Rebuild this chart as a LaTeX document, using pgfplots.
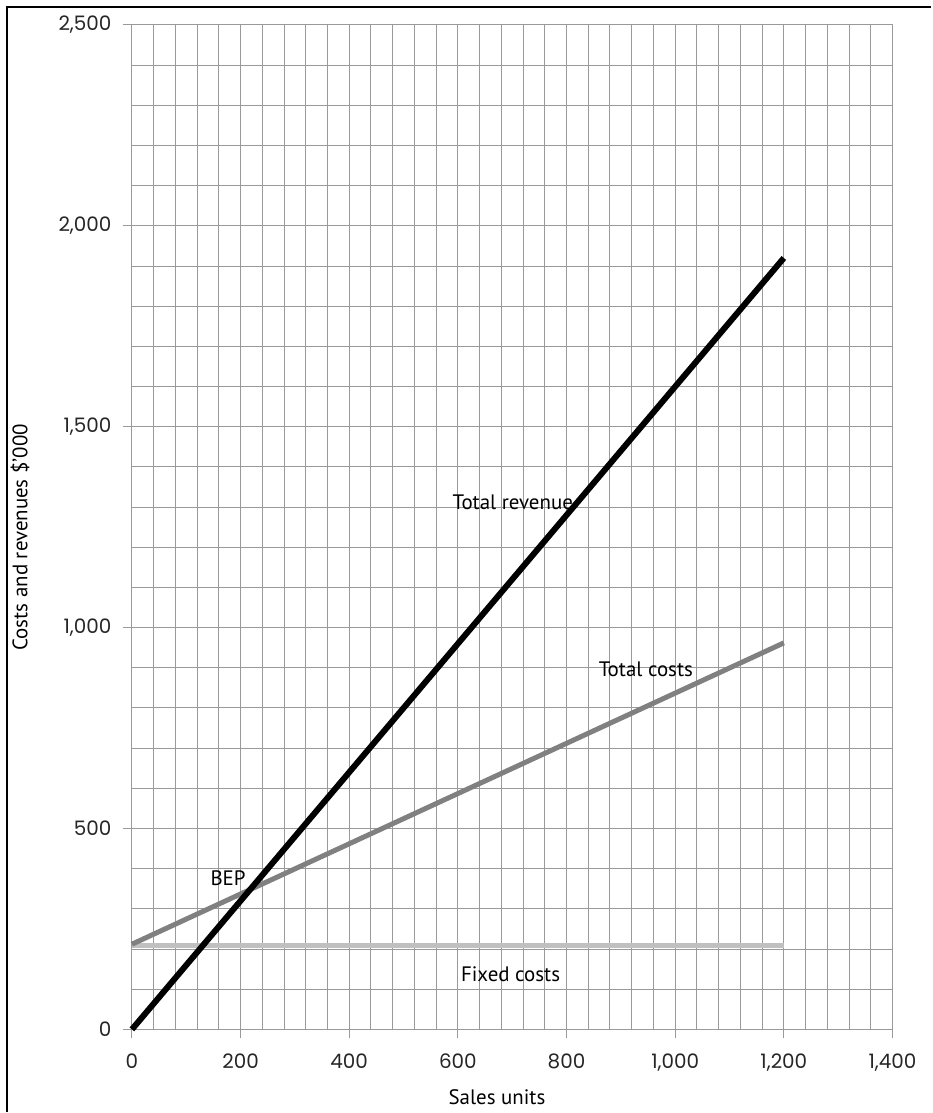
\documentclass[border=0pt]{standalone}
\usepackage{fontspec}
\setmainfont{PT Sans}
\newfontfamily\tickfont{Poppins}
\usepackage{pgfplots}
\pgfplotsset{compat=1.18}
\definecolor{gridgray}{HTML}{9A9A9A}
\definecolor{costgray}{HTML}{808080}
\definecolor{fixgray}{HTML}{C0C0C0}
\begin{document}
\begin{tikzpicture}[x=1bp,y=1bp]
\path (0,0) rectangle (932,1113);
\draw[black, line width=1.3bp] (7,0) -- (7,1106) -- (932,1106);
\begin{axis}[
  at={(132bp,83bp)}, anchor=south west,
  scale only axis, width=761bp, height=1005bp,
  xmin=0, xmax=1400, ymin=0, ymax=2500,
  xtick={0,200,...,1400}, ytick={0,500,...,2500},
  minor x tick num=4, minor y tick num=4,
  grid=both,
  major grid style={draw=gridgray, line width=1bp},
  minor grid style={draw=gridgray, line width=1bp},
  axis line style={draw=gridgray, line width=1bp},
  tick style={draw=gridgray, line width=1bp},
  tick pos=left, tick align=outside,
  major tick length=9bp, minor tick length=0bp,
  /pgf/number format/assume math mode=true,
  /pgf/number format/1000 sep={,},
  ticklabel style={font=\tickfont\fontsize{20}{20}\selectfont, text=black!85},
  xticklabel style={yshift=-12bp},
  yticklabel style={xshift=-8bp},
  xlabel={Sales units},
  ylabel={Costs and revenues \$'000},
  label style={font=\fontsize{21}{21}\selectfont},
  xlabel style={at={(axis description cs:0.48,-0.067)}, anchor=center},
  ylabel style={at={(axis description cs:-0.147,0.49)}, anchor=center, rotate=0},
  clip=false,
]
\addplot[fixgray, line width=5bp] coordinates {(0,210) (1200,210)};
\addplot[costgray, line width=5bp] coordinates {(0,212) (1200,962)};
\addplot[black, line width=6bp] coordinates {(0,0) (1200,1920)};
\node[font=\fontsize{21}{21}\selectfont] at (axis cs:701,1313) {Total revenue};
\node[font=\fontsize{21}{21}\selectfont] at (axis cs:946,896) {Total costs};
\node[font=\fontsize{21}{21}\selectfont] at (axis cs:177,376) {BEP};
\node[font=\fontsize{21}{21}\selectfont] at (axis cs:697,137) {Fixed costs};
\end{axis}
\end{tikzpicture}
\end{document}
